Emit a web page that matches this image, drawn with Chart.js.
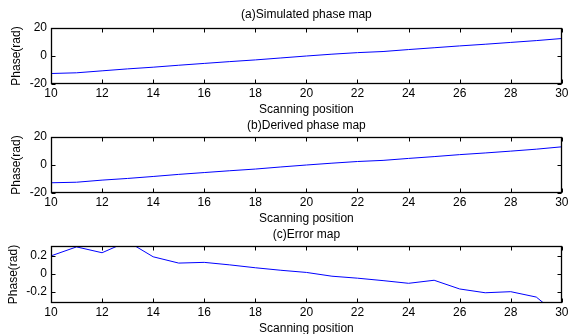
<!DOCTYPE html>
<html><head><meta charset="utf-8">
<script src="https://cdn.jsdelivr.net/npm/chart.js@4/dist/chart.umd.min.js"></script>
<style>
html,body{margin:0;padding:0;width:571px;height:334px;overflow:hidden;background:#fff;}
canvas{position:absolute;left:0;}
</style></head><body>
<canvas id="c1" width="571" height="117" style="top:0px"></canvas>
<canvas id="c2" width="571" height="116" style="top:110px"></canvas>
<canvas id="c3" width="571" height="116" style="top:220px"></canvas>
<script>
const positions = [10,11,12,13,14,15,16,17,18,19,20,21,22,23,24,25,26,27,28,29,30];
const simulatedPhase = [-12.5,-12.0,-10.6,-9.2,-8.0,-6.6,-5.3,-4.0,-2.8,-1.4,0.0,1.3,2.4,3.2,4.6,5.9,7.2,8.4,9.7,11.0,12.5];
const derivedPhase   = [-12.7,-12.3,-10.8,-9.6,-8.2,-6.7,-5.4,-4.1,-2.9,-1.4,0.0,1.3,2.5,3.3,4.7,6.0,7.4,8.6,9.9,11.3,13.0];
const phaseError     = [0.20,0.30,0.235,0.36,0.19,0.12,0.128,0.10,0.068,0.04,0.016,-0.026,-0.048,-0.075,-0.105,-0.071,-0.168,-0.21,-0.198,-0.258,-0.49];
const xTicks = [10,12,14,16,18,20,22,24,26,28,30];
const phaseTicks = [-20,0,20];
const phaseTickLabels = ['-20','0','20'];
const errorTicks = [-0.2,0,0.2];
const errorTickLabels = ['-0.2','0','0.2'];
const panelTitles = ['(a)Simulated phase map','(b)Derived phase map','(c)Error map'];
const xTitle = 'Scanning position';
const yTitle = 'Phase(rad)';

const FONT = {family:'"Liberation Sans", Arial, Helvetica, sans-serif', size:12, lineHeight:1.2};

const boxPlugin = {
  id:'boxPlugin',
  afterDraw(chart){
    const ctx = chart.ctx, a = chart.chartArea, xs = chart.scales.x, ys = chart.scales.y;
    ctx.save();
    ctx.strokeStyle = '#000';
    ctx.lineWidth = 1;
    const L = Math.round(a.left)+0.5, R = Math.round(a.right)-0.5, T = Math.round(a.top)+0.5, B = Math.round(a.bottom)-0.5;
    ctx.beginPath();
    xs.ticks.forEach(t => {
      const px = Math.round(xs.getPixelForValue(t.value))+0.5;
      ctx.moveTo(px,B); ctx.lineTo(px,B-4);
      ctx.moveTo(px,T); ctx.lineTo(px,T+4);
    });
    ys.ticks.forEach(t => {
      const py = Math.round(ys.getPixelForValue(t.value))+0.5;
      ctx.moveTo(L,py); ctx.lineTo(L+4,py);
      ctx.moveTo(R,py); ctx.lineTo(R-4,py);
    });
    ctx.stroke();
    ctx.lineWidth = 1.3;
    ctx.strokeRect(L,T,R-L,B-T);
    ctx.restore();
  }
};

function makePanel(id, title, values, yMin, yMax, yTickVals, yTickLabels, cfg){
  new Chart(document.getElementById(id), {
    type:'line',
    data:{datasets:[{
      data: positions.map((p,i)=>({x:p, y:values[i]})),
      borderColor:'#0000ff', borderWidth:1, pointRadius:0, tension:0, fill:false
    }]},
    options:{
      responsive:false, animation:false, devicePixelRatio:1,
      layout:{padding:{left:0,right:6,top:0,bottom:0}},
      plugins:{
        legend:{display:false}, tooltip:{enabled:false},
        title:{display:true, fullSize:false, text:title, color:'#000', font:Object.assign({},FONT,{weight:'normal'}),
               padding:{top:cfg.tTop, bottom:cfg.tBottom}}
      },
      scales:{
        x:{type:'linear', min:10, max:30,
           afterBuildTicks:s=>{ s.ticks = xTicks.map(v=>({value:v})); },
           afterFit:s=>{ s.height = cfg.xH; },
           grid:{display:false, drawTicks:false},
           border:{display:false},
           ticks:{color:'#000', font:FONT, padding:2.5, maxRotation:0, autoSkip:false},
           title:{display:true, text:xTitle, color:'#000', font:FONT, padding:{top:0,bottom:0}}
        },
        y:{type:'linear', min:yMin, max:yMax,
           afterBuildTicks:s=>{ s.ticks = yTickVals.map(v=>({value:v})); },
           afterFit:s=>{ s.width = 51; },
           grid:{display:false, drawTicks:false},
           border:{display:false},
           ticks:{color:'#000', font:FONT, padding:4, autoSkip:false,
                  callback:(v,i)=>yTickLabels[i]},
           title:{display:true, text:yTitle, color:'#000', font:FONT, padding:{top:cfg.yPad,bottom:0}}
        }
      }
    },
    plugins:[boxPlugin]
  });
}

makePanel('c1', panelTitles[0], simulatedPhase, -20, 20, phaseTicks, phaseTickLabels, {tTop:7.5, tBottom:6.1, xH:33, yPad:9.3});
makePanel('c2', panelTitles[1], derivedPhase, -20, 20, phaseTicks, phaseTickLabels, {tTop:8.3, tBottom:4.3, xH:33, yPad:9.3});
makePanel('c3', panelTitles[2], phaseError, -0.324, 0.31, errorTicks, errorTickLabels, {tTop:7.6, tBottom:4.0, xH:33, yPad:6});
</script>
</body></html>
